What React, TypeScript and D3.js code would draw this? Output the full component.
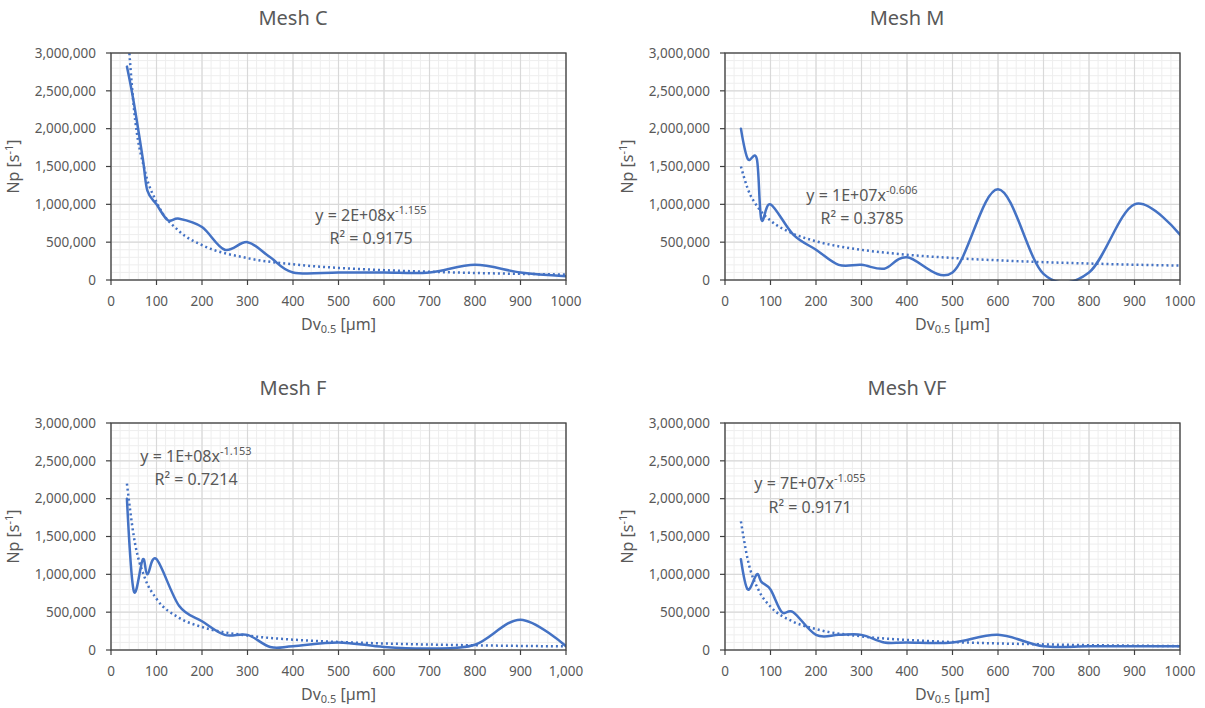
import React from 'react';
import * as d3 from 'd3';

const xC = [35, 50, 70, 80, 100, 125, 150, 200, 250, 300, 350, 400, 500, 600, 700, 800, 900, 1000];
const npC = [2820000, 2350000, 1600000, 1180000, 1000000, 790000, 810000, 700000, 400000, 500000, 300000, 100000, 100000, 100000, 100000, 200000, 100000, 50000];

const xM = [35, 50, 70, 80, 100, 150, 200, 250, 300, 350, 400, 500, 600, 700, 800, 900, 1000];
const npM = [2000000, 1600000, 1600000, 800000, 1000000, 600000, 400000, 200000, 200000, 150000, 300000, 100000, 1200000, 80000, 100000, 1000000, 600000];

const xF = [35, 50, 70, 80, 100, 150, 200, 250, 300, 350, 400, 500, 600, 700, 800, 900, 1000];
const npF = [2000000, 780000, 1200000, 1000000, 1200000, 580000, 380000, 200000, 200000, 40000, 50000, 100000, 40000, 20000, 70000, 400000, 50000];

const xVF = [35, 50, 70, 80, 100, 125, 150, 200, 250, 300, 350, 400, 500, 600, 700, 800, 900, 1000];
const npVF = [1200000, 800000, 1000000, 900000, 800000, 500000, 500000, 200000, 200000, 200000, 100000, 100000, 100000, 200000, 50000, 50000, 50000, 50000];

// power trendlines, values
const xTrend = [35, 50, 75, 100, 150, 200, 300, 400, 500, 600, 700, 800, 900, 1000];
const trendC = [3460000, 2290000, 1430000, 1030000, 644000, 462000, 289000, 207000, 160000, 130000, 109000, 93000, 81000, 72000];
const trendM = [1500000, 1206000, 938000, 786000, 612000, 512000, 399000, 334000, 291000, 260000, 236000, 218000, 202000, 190000];
const trendF = [2200000, 1506000, 943000, 677000, 424000, 304000, 191000, 137000, 106000, 86000, 72000, 62000, 54000, 48000];
const trendVF = [1700000, 1194000, 778000, 574000, 374000, 276000, 180000, 133000, 105000, 87000, 74000, 64000, 57000, 51000];

const titles = ['Mesh C', 'Mesh M', 'Mesh F', 'Mesh VF'];
const eqCoef = ['2E+08', '1E+07', '1E+08', '7E+07'];
const eqExp = ['-1.155', '-0.606', '-1.153', '-1.055'];
const r2 = ['0.9175', '0.3785', '0.7214', '0.9171'];
const xTicks = d3.range(0, 1001, 100);
const yTicks = d3.range(0, 3000001, 500000);

const series = [
  { x: xC, y: npC, t: trendC },
  { x: xM, y: npM, t: trendM },
  { x: xF, y: npF, t: trendF },
  { x: xVF, y: npVF, t: trendVF },
];

// layout
const W = 455;
const H = 227;
const lefts = [111, 725, 111, 725];
const tops = [53, 53, 423, 423];
const eqPos = [
  { dx: 260, dy: 167.5 },
  { dx: 137, dy: 147.5 },
  { dx: 85, dy: 38.5 },
  { dx: 85, dy: 66 },
];

const BLUE = '#4472C4';
const TXT = '#595959';
const FONT = '"Noto Sans", "Open Sans", sans-serif';

const Panel = ({ i }: { i: number }) => {
  const left = lefts[i];
  const top = tops[i];
  const s = series[i];
  const x = d3.scaleLinear().domain([0, 1000]).range([left, left + W]);
  const y = d3.scaleLinear().domain([0, 3000000]).range([top + H, top]);
  const xFmt = i === 2 ? d3.format(',') : d3.format('d');
  const yFmt = d3.format(',');

  const line = d3.line<number>()
    .x((_, k) => x(s.x[k]))
    .y(d => y(d))
    .curve(d3.curveCardinal.tension(0));
  const trend = d3.line<number>()
    .x((_, k) => x(xTrend[k]))
    .y(d => y(d))
    .curve(d3.curveMonotoneX);

  const clipId = `clip${i}`;
  const cx = left + W / 2;

  return (
    <g fontFamily={FONT}>
      <defs>
        <clipPath id={clipId}>
          <rect x={left} y={top - 1} width={W} height={H + 2} />
        </clipPath>
      </defs>
      <rect x={left} y={top} width={W} height={H} fill="#fff" />
      {/* minor grid */}
      {d3.range(0, 1001, 20).map(v => (
        <line key={'mx' + v} x1={x(v)} x2={x(v)} y1={top} y2={top + H} stroke="#eeeeee" strokeWidth={1} />
      ))}
      {d3.range(0, 3000001, 100000).map(v => (
        <line key={'my' + v} x1={left} x2={left + W} y1={y(v)} y2={y(v)} stroke="#eeeeee" strokeWidth={1} />
      ))}
      {/* major grid */}
      {xTicks.map(v => (
        <line key={'gx' + v} x1={x(v)} x2={x(v)} y1={top} y2={top + H} stroke="#d9d9d9" strokeWidth={1.2} />
      ))}
      {yTicks.map(v => (
        <line key={'gy' + v} x1={left} x2={left + W} y1={y(v)} y2={y(v)} stroke="#d9d9d9" strokeWidth={1.2} />
      ))}

      <g clipPath={`url(#${clipId})`}>
        <path d={trend(s.t) || ''} fill="none" stroke={BLUE} strokeWidth={2.5} strokeDasharray="2 3" />
        <path d={line(s.y) || ''} fill="none" stroke={BLUE} strokeWidth={2.5} strokeLinejoin="round" strokeLinecap="round" />
      </g>

      {/* frame, axes and ticks */}
      <rect x={left} y={top} width={W} height={H} fill="none" stroke="#404040" strokeWidth={1.3} />
      {xTicks.map(v => (
        <line key={'tx' + v} x1={x(v)} x2={x(v)} y1={top + H} y2={top + H + 5} stroke="#404040" strokeWidth={1.2} />
      ))}
      {yTicks.map(v => (
        <line key={'ty' + v} x1={left - 5} x2={left} y1={y(v)} y2={y(v)} stroke="#404040" strokeWidth={1.2} />
      ))}

      {xTicks.map(v => (
        <text key={'lx' + v} x={x(v)} y={top + H + 26} textAnchor="middle" fontSize={13.5} fill={TXT}>{xFmt(v)}</text>
      ))}
      {yTicks.map(v => (
        <text key={'ly' + v} x={left - 15} y={y(v)} dy="0.35em" textAnchor="end" fontSize={13.5} fill={TXT}>{yFmt(v)}</text>
      ))}

      <text x={left + 182} y={top - 28} textAnchor="middle" fontSize={20} fill={TXT}>{titles[i]}</text>

      <text x={cx} y={top + H + 50} textAnchor="middle" fontSize={16} fill={TXT}>
        Dv<tspan fontSize={11} dy={3}>0.5</tspan><tspan dy={-3}> [µm]</tspan>
      </text>
      <text transform={`translate(${left - 92},${top + H / 2}) rotate(-90)`} textAnchor="middle" fontSize={16} fill={TXT}>
        Np [s<tspan fontSize={11} dy={-6}>-1</tspan><tspan dy={6}>]</tspan>
      </text>

      <text x={left + eqPos[i].dx} y={top + eqPos[i].dy} textAnchor="middle" fontSize={16} fill={TXT}>
        y = {eqCoef[i]}x<tspan fontSize={11} dy={-7}>{eqExp[i]}</tspan>
      </text>
      <text x={left + eqPos[i].dx} y={top + eqPos[i].dy + 23.5} textAnchor="middle" fontSize={16} fill={TXT}>
        R² = {r2[i]}
      </text>
    </g>
  );
};

export default function App() {
  return (
    <svg width={1205} height={708} style={{ position: 'absolute', left: 0, top: 0, background: '#fff' }}>
      <rect width={1205} height={708} fill="#fff" />
      {[0, 1, 2, 3].map(i => <Panel key={i} i={i} />)}
    </svg>
  );
}
